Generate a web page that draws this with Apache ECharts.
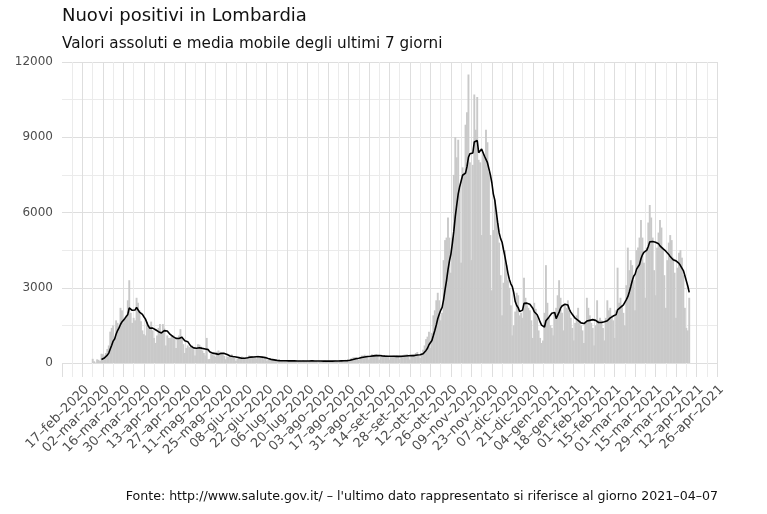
<!DOCTYPE html>
<html>
<head>
<meta charset="utf-8">
<title>Nuovi positivi in Lombardia</title>
<script src="https://cdn.jsdelivr.net/npm/echarts@6/dist/echarts.min.js"></script>
<style>
  html, body { margin: 0; padding: 0; background: #fff; }
  #chart { width: 767px; height: 514px; }
</style>
</head>
<body>
<div id="chart"></div>
<script>
// nuovi positivi giornalieri, dal 24-feb-2020 al 07-apr-2021 (una riga = una settimana, lun-dom)
var positivi = [
  166, 68, 18, 145, 128, 84, 369,
  350, 300, 400, 560, 700, 1250, 1400,
  1500, 900, 1700, 1600, 1450, 2200, 2100,
  1600, 1800, 1900, 2500, 3300, 2000, 1600,
  1800, 1700, 2600, 2400, 2100, 1660, 1300,
  1150, 1100, 1630, 1400, 1500, 1650, 1300,
  1000, 800, 1100, 1400, 1550, 1250, 1550,
  1380, 700, 1100, 1000, 1000, 1080, 1100,
  1000, 600, 950, 1100, 1350, 1060, 750,
  400, 600, 700, 630, 650, 700, 550,
  300, 600, 750, 730, 650, 500, 400,
  300, 1000, 150, 164, 400, 350, 300,
  250, 450, 500, 445, 400, 350, 280,
  150, 250, 250, 270, 350, 250, 200,
  90, 160, 180, 200, 260, 240, 200,
  150, 250, 300, 250, 280, 250, 230,
  180, 300, 250, 230, 200, 150, 200,
  80, 130, 140, 110, 120, 100, 90,
  50, 90, 100, 80, 110, 90, 100,
  40, 80, 90, 80, 100, 90, 70,
  40, 80, 90, 70, 110, 90, 80,
  30, 80, 100, 90, 100, 80, 80,
  30, 70, 90, 80, 90, 100, 70,
  40, 60, 80, 90, 100, 110, 80,
  40, 80, 100, 110, 120, 130, 90,
  60, 150, 200, 220, 230, 240, 160,
  120, 250, 300, 290, 330, 290, 240,
  140, 300, 350, 330, 340, 350, 290,
  130, 250, 300, 300, 310, 320, 280,
  130, 250, 290, 300, 290, 300, 260,
  150, 270, 320, 330, 340, 350, 270,
  140, 300, 330, 340, 400, 440, 290,
  200, 400, 530, 700, 950, 1050, 1250,
  600, 1200, 1900, 2100, 2500, 2800, 2500,
  1700, 2000, 4100, 4900, 5000, 5800, 5000,
  3600, 5000, 7500, 9000, 8200, 8900, 7000,
  4000, 7800, 7600, 9500, 10000, 11500, 8000,
  4100, 7900, 10700, 9300, 10600, 8100, 8000,
  5100, 8400, 8200, 9300, 8800, 7600, 5100,
  2900, 5300, 6500, 6100, 5600, 4800, 3500,
  1900, 3200, 4500, 3900, 3300, 3000, 2300,
  1100, 1500, 2050, 2800, 2700, 1900, 2000,
  1800, 3400, 2600, 2300, 2200, 2100, 1700,
  1000, 2400, 2160, 1900, 1300, 1000, 800,
  900, 2000, 3900, 2400, 1800, 1500, 1400,
  1100, 2000, 2200, 2700, 3300, 2600, 2000,
  1300, 2300, 2200, 2500, 2100, 1800, 1400,
  900, 1600, 1900, 2200, 1700, 1500, 1300,
  800, 1600, 2600, 2200, 1900, 1600, 1400,
  700, 1500, 2500, 1700, 1800, 1700, 1400,
  900, 1800, 2500, 2100, 2200, 1900, 1700,
  1000, 2100, 3800, 2400, 2600, 2300, 2000,
  1500, 3100, 4600, 3700, 4100, 3900, 3300,
  2100, 4500, 4600, 5000, 5700, 5000, 4000,
  2600, 4600, 5600, 6300, 5800, 5000, 3700,
  2700, 4600, 5200, 5700, 5400, 4600, 3500,
  2200, 4100, 4800, 5100, 4900, 4200, 3600,
  1800, 3800, 4400, 4500, 4200, 3500, 2200,
  1400, 1300, 2600
];
var mesi = ['gen', 'feb', 'mar', 'apr', 'mag', 'giu', 'lug', 'ago', 'set', 'ott', 'nov', 'dic'];
var yTicks = [0, 3000, 6000, 9000, 12000];

var GIORNO = 86400000;
var origine = Date.UTC(2020, 1, 17);   // asse x: giorni dal 17-feb-2020
var scarto = 7;                         // il primo dato e' il 24-feb-2020

function etichetta(v) {
  if (v < 0 || v % 14 !== 0) return '';
  var d = new Date(origine + v * GIORNO);
  var gg = ('0' + d.getUTCDate()).slice(-2);
  return gg + '\u2013' + mesi[d.getUTCMonth()] + '\u2013' + d.getUTCFullYear();
}

var barre = positivi.map(function (v, i) { return [i + scarto, v]; });
// media mobile degli ultimi 7 giorni
var media = [];
for (var i = 6; i < positivi.length; i++) {
  var s = 0;
  for (var j = i - 6; j <= i; j++) s += positivi[j];
  media.push([i + scarto, s / 7]);
}

var font = 'DejaVu Sans';
var grigio = '#4d4d4d';

var myChart = echarts.init(document.getElementById('chart'), null, { renderer: 'canvas' });
myChart.setOption({
  animation: false,
  backgroundColor: '#fff',
  title: [
    { text: 'Nuovi positivi in Lombardia', left: 57, top: 2,
      textStyle: { fontFamily: font, fontSize: 18, fontWeight: 'normal', color: '#111' } },
    { text: 'Valori assoluti e media mobile degli ultimi 7 giorni', left: 57, top: 32,
      textStyle: { fontFamily: font, fontSize: 15.2, fontWeight: 'normal', color: '#111' } },
    { text: 'Fonte: http://www.salute.gov.it/ \u2013 l\'ultimo dato rappresentato si riferisce al giorno 2021\u201304\u201307',
      right: 44, top: 485,
      textStyle: { fontFamily: font, fontSize: 12.6, fontWeight: 'normal', color: '#111' } }
  ],
  grid: { left: 62, right: 50, top: 62, bottom: 151, containLabel: false },
  xAxis: {
    type: 'value',
    min: -14,
    max: 434,
    interval: 14,
    axisLine: { show: false },
    axisTick: { show: true, length: 14, lineStyle: { color: '#dedede', width: 1 } },
    minorTick: { show: true, splitNumber: 2, length: 14, lineStyle: { color: '#ebebeb', width: 1 } },
    splitLine: { show: true, showMinLine: false, lineStyle: { color: '#dedede', width: 1 } },
    minorSplitLine: { show: true, lineStyle: { color: '#ebebeb', width: 1 } },
    axisLabel: {
      rotate: 45, margin: 20, align: 'right', verticalAlign: 'top',
      showMinLabel: false,
      fontFamily: font, fontSize: 13, color: grigio,
      formatter: etichetta
    }
  },
  yAxis: {
    type: 'value',
    min: yTicks[0],
    max: yTicks[yTicks.length - 1],
    interval: 3000,
    axisLine: { show: false },
    axisTick: { show: false },
    splitLine: { show: true, lineStyle: { color: '#dedede', width: 1 } },
    minorTick: { show: false, splitNumber: 2 },
    minorSplitLine: { show: true, lineStyle: { color: '#ebebeb', width: 1 } },
    axisLabel: {
      margin: 9, fontFamily: font, fontSize: 12, color: grigio,
      formatter: function (v) { return String(v); }
    }
  },
  series: [
    {
      name: 'nuovi positivi',
      type: 'bar',
      data: barre,
      barWidth: 1.9,
      itemStyle: { color: '#c9c9c9' },
      z: 2
    },
    {
      name: 'media mobile',
      type: 'line',
      data: media,
      symbol: 'none',
      lineStyle: { color: '#000', width: 1.6 },
      z: 3
    }
  ]
});
</script>
</body>
</html>
